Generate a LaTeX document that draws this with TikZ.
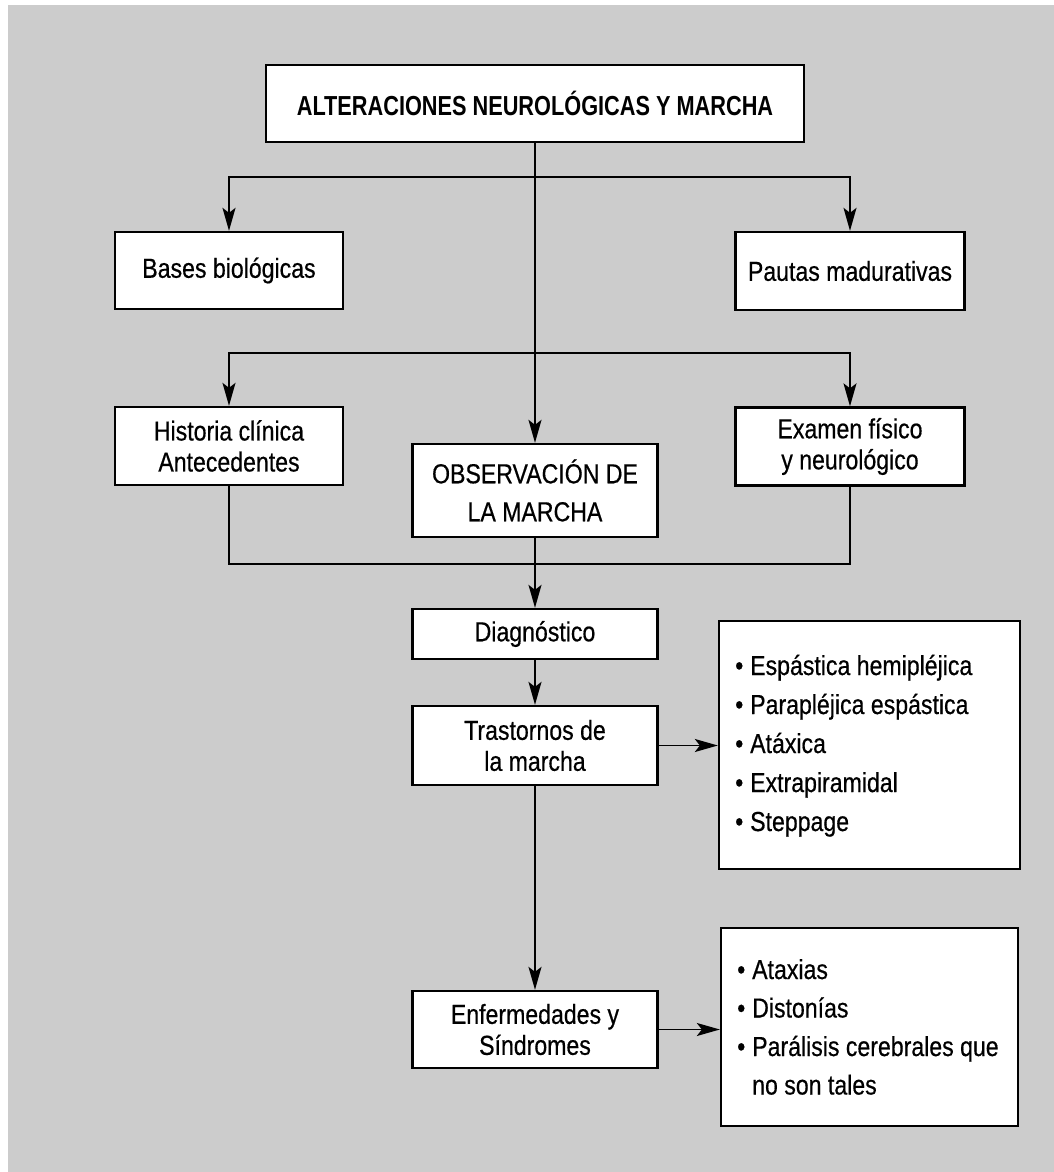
\documentclass[tikz,border=0pt]{standalone}
\usepackage{fontspec}
\setmainfont{Liberation Sans}[FakeStretch=0.84,FakeBold=0.5]
\newfontfamily\titlefont{Liberation Sans}[FakeStretch=0.79]
\usetikzlibrary{arrows.meta}
\definecolor{bggray}{RGB}{204,204,204}
\newcommand{\mybullet}{\makebox[15pt][l]{•}}
\begin{document}
\begin{tikzpicture}[x=1pt,y=-1pt,
  box/.style={draw=black, fill=white, line width=2.3pt, inner sep=0pt, align=center,
    font=\fontsize{27.5}{31}\selectfont},
  conn/.style={line width=1.7pt, draw=black},
  arr/.style={conn, -{Stealth[length=23pt,width=13pt,inset=5pt]}},
  item/.style={anchor=base west, inner sep=0pt, font=\fontsize{27.5}{31}\selectfont}]
\useasboundingbox (0,0) rectangle (1054,1172);
\fill[bggray] (8,5) rectangle (1054,1172);

% boxes
\node[box, minimum width=538pt, minimum height=77pt,
  font=\titlefont\bfseries\fontsize{27.5}{31}\selectfont] (title) at (535,103.5)
  {ALTERACIONES NEUROLÓGICAS Y MARCHA};
\node[box, minimum width=228pt, minimum height=77pt] (bases) at (229,270.5) {Bases biológicas};
\node[box, minimum width=229pt, minimum height=78pt] (pautas) at (850,271) {Pautas madurativas};
\node[box, minimum width=228pt, minimum height=78pt] (hist) at (229,446) {Historia clínica\\Antecedentes};
\node[box, minimum width=229pt, minimum height=78pt] (exam) at (850,446.5) {Examen físico\\y neurológico};
\node[box, minimum width=245pt, minimum height=93pt,
  font=\fontsize{27.5}{38}\selectfont] (obs) at (535,490.5) {OBSERVACIÓN DE\\LA MARCHA};
\node[box, minimum width=245pt, minimum height=50pt] (diag) at (535,634) {Diagnóstico};
\node[box, minimum width=245pt, minimum height=79pt] (tras) at (535,745.5) {Trastornos de\\la marcha};
\node[box, minimum width=245pt, minimum height=77pt] (enf) at (535,1029.5) {Enfermedades y\\Síndromes};
\node[box, minimum width=301pt, minimum height=248pt] (list1) at (869.5,745) {};
\node[box, minimum width=297pt, minimum height=198pt] (list2) at (869.5,1027) {};

% list texts
\node[item] (l1a) at (735,675) {\mybullet Espástica hemipléjica};
\node[item] (l1b) at (735,714) {\mybullet Parapléjica espástica};
\node[item] (l1c) at (735,753) {\mybullet Atáxica};
\node[item] (l1d) at (735,792) {\mybullet Extrapiramidal};
\node[item] (l1e) at (735,831) {\mybullet Steppage};
\node[item] (l2a) at (737,979) {\mybullet Ataxias};
\node[item] (l2b) at (737,1017.5) {\mybullet Distonías};
\node[item] (l2c) at (737,1056) {\mybullet Parálisis cerebrales que};
\node[item] (l2d) at (752,1094.5) {no son tales};

% connectors
\coordinate (j1) at (535,177);
\coordinate (j2) at (535,353);
\coordinate (j3) at (535,564);
\draw[arr] (title.south) -- (obs.north);
\draw[arr] (j1) -| (bases.north);
\draw[arr] (j1) -| (pautas.north);
\draw[arr] (j2) -| (hist.north);
\draw[arr] (j2) -| (exam.north);
\draw[conn] (hist.south) |- (exam.south |- j3) -- (exam.south);
\draw[arr] (obs.south) -- (diag.north);
\draw[arr] (diag.south) -- (tras.north);
\draw[arr] (tras.south) -- (enf.north);
\draw[arr] (tras.east) -- (list1.west |- tras.east);
\draw[arr] (enf.east) -- (list2.west |- enf.east);
\end{tikzpicture}
\end{document}
